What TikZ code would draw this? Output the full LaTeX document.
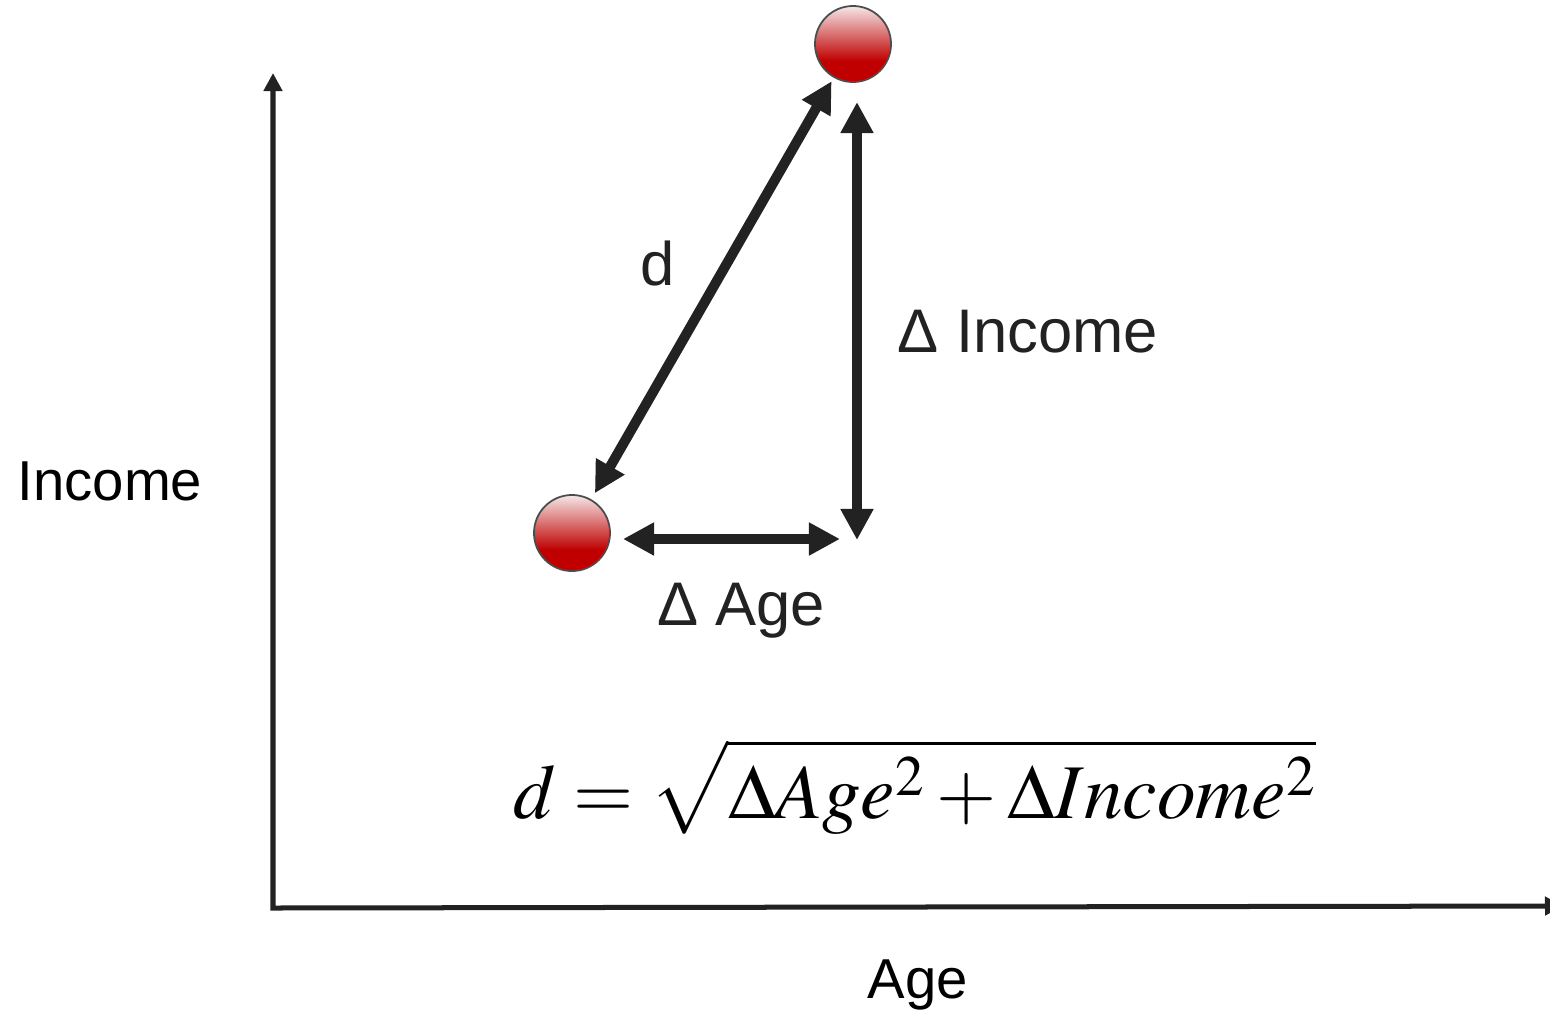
\documentclass[tikz,border=0pt]{standalone}
\usepackage{mathptmx}
\usepackage[no-math]{fontspec}
\setsansfont{Liberation Sans}
\usetikzlibrary{arrows.meta}
\definecolor{arrowgray}{HTML}{222222}
\definecolor{ballred}{HTML}{C00000}
\definecolor{ballpink}{HTML}{F6E6E6}
\pgfdeclareverticalshading{ballshade}{100bp}{color(0bp)=(ballred); color(39bp)=(ballred); color(75bp)=(ballpink); color(100bp)=(ballpink)}

\begin{document}
\begin{tikzpicture}[x=0.01cm, y=-0.01cm,
  ball/.style={circle, draw=black!70, line width=0.5pt, inner sep=0pt, minimum size=0.76cm, shading=ballshade},
  dist/.style={draw=arrowgray, line width=0.1cm, <->, >={Triangle[length=0.31cm, width=0.31cm]}},
  axis/.style={draw=arrowgray, line width=0.05cm, >={Triangle[length=0.18cm, width=0.18cm]}},
  lab/.style={font=\sffamily\fontsize{17.5}{21}\selectfont, text=arrowgray, inner sep=0pt},
  axlab/.style={font=\sffamily\fontsize{16}{19}\selectfont, inner sep=0pt}]
  \clip (0,0) rectangle (1550,1011);

  % axes
  \coordinate (o) at (273,908);
  \coordinate (ytip) at (273,73);
  \coordinate (xtip) at (1563,906);
  \draw[axis, <->] (ytip) -- (o) -- (xtip);
  \node[axlab, anchor=base] (ylab) at (110,500) {Income};
  \node[axlab, anchor=base] (xlab) at (918,998) {Age};

  % two points
  \node[ball] (p1) at (572,533) {};
  \node[ball] (p2) at (853,44) {};

  % distance and the two differences
  \draw[dist, shorten <=0.07cm, shorten >=0.04cm] (p1) -- (p2);
  \node[lab, anchor=base] (dlab) at (658,285) {d};
  \coordinate (h1) at (623,539);
  \coordinate (h2) at (840,539);
  \draw[dist] (h1) -- (h2);
  \node[lab, anchor=base] (agelab) at (741,625) {Δ Age};
  \coordinate (v1) at (857,540);
  \coordinate (v2) at (857,102);
  \draw[dist] (v1) -- (v2);
  \node[lab, anchor=base] (inclab) at (1028,352) {Δ Income};

  % formula
  \node[anchor=base, inner sep=0pt] (eq) at (915,818)
    {\fontsize{22}{27}\selectfont$d=\sqrt{\rule{0pt}{19.5pt}\Delta Age^2+\Delta Income^2}$};
\end{tikzpicture}
\end{document}
